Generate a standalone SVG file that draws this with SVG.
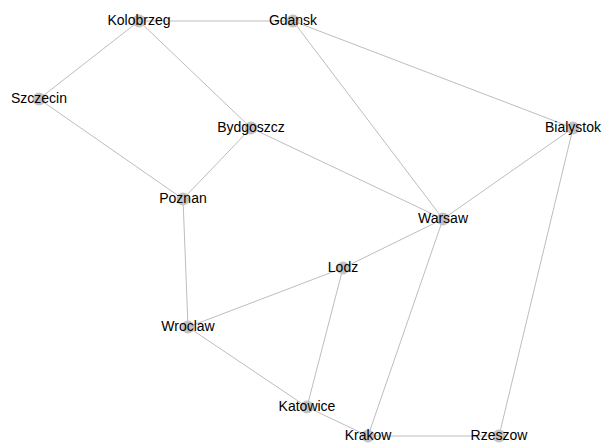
<svg xmlns="http://www.w3.org/2000/svg" width="602" height="444" viewBox="0 0 602 444">
  <style>
    .edge { stroke: #bdbdbd; stroke-width: 1; fill: none; }
    .node circle { fill: #c4c4c4; }
    .node text { font-family: "Liberation Sans", Arial, sans-serif; font-size: 14px; fill: #000; text-anchor: middle; }
  </style>
  <rect width="602" height="444" fill="#fff"/>
  <g id="edges">
    <line class="edge" x1="139" y1="21" x2="293" y2="21"/>
    <line class="edge" x1="139" y1="21" x2="39" y2="99"/>
    <line class="edge" x1="139" y1="21" x2="251" y2="128"/>
    <line class="edge" x1="39" y1="99" x2="183" y2="199"/>
    <line class="edge" x1="251" y1="128" x2="183" y2="199"/>
    <line class="edge" x1="251" y1="128" x2="443" y2="219"/>
    <line class="edge" x1="293" y1="21" x2="443" y2="219"/>
    <line class="edge" x1="293" y1="21" x2="573" y2="128"/>
    <line class="edge" x1="573" y1="128" x2="443" y2="219"/>
    <line class="edge" x1="573" y1="128" x2="499" y2="436"/>
    <line class="edge" x1="183" y1="199" x2="188" y2="327"/>
    <line class="edge" x1="443" y1="219" x2="343" y2="268"/>
    <line class="edge" x1="443" y1="219" x2="368" y2="436"/>
    <line class="edge" x1="343" y1="268" x2="188" y2="327"/>
    <line class="edge" x1="343" y1="268" x2="307" y2="407"/>
    <line class="edge" x1="188" y1="327" x2="307" y2="407"/>
    <line class="edge" x1="307" y1="407" x2="368" y2="436"/>
    <line class="edge" x1="368" y1="436" x2="499" y2="436"/>
  </g>
  <g id="Kolobrzeg" class="node"><circle cx="139" cy="21" r="6.5"/><text x="139" y="25">Kolobrzeg</text></g>
  <g id="Gdansk" class="node"><circle cx="293" cy="21" r="6.5"/><text x="293" y="25">Gdansk</text></g>
  <g id="Szczecin" class="node"><circle cx="39" cy="99" r="6.5"/><text x="39" y="103">Szczecin</text></g>
  <g id="Bydgoszcz" class="node"><circle cx="251" cy="128" r="6.5"/><text x="251" y="132">Bydgoszcz</text></g>
  <g id="Bialystok" class="node"><circle cx="573" cy="128" r="6.5"/><text x="573" y="132">Bialystok</text></g>
  <g id="Warsaw" class="node"><circle cx="443" cy="219" r="6.5"/><text x="443" y="223">Warsaw</text></g>
  <g id="Poznan" class="node"><circle cx="183" cy="199" r="6.5"/><text x="183" y="203">Poznan</text></g>
  <g id="Lodz" class="node"><circle cx="343" cy="268" r="6.5"/><text x="343" y="272">Lodz</text></g>
  <g id="Wroclaw" class="node"><circle cx="188" cy="327" r="6.5"/><text x="188" y="331">Wroclaw</text></g>
  <g id="Katowice" class="node"><circle cx="307" cy="407" r="6.5"/><text x="307" y="411">Katowice</text></g>
  <g id="Krakow" class="node"><circle cx="368" cy="436" r="6.5"/><text x="368" y="440">Krakow</text></g>
  <g id="Rzeszow" class="node"><circle cx="499" cy="436" r="6.5"/><text x="499" y="440">Rzeszow</text></g>
</svg>
